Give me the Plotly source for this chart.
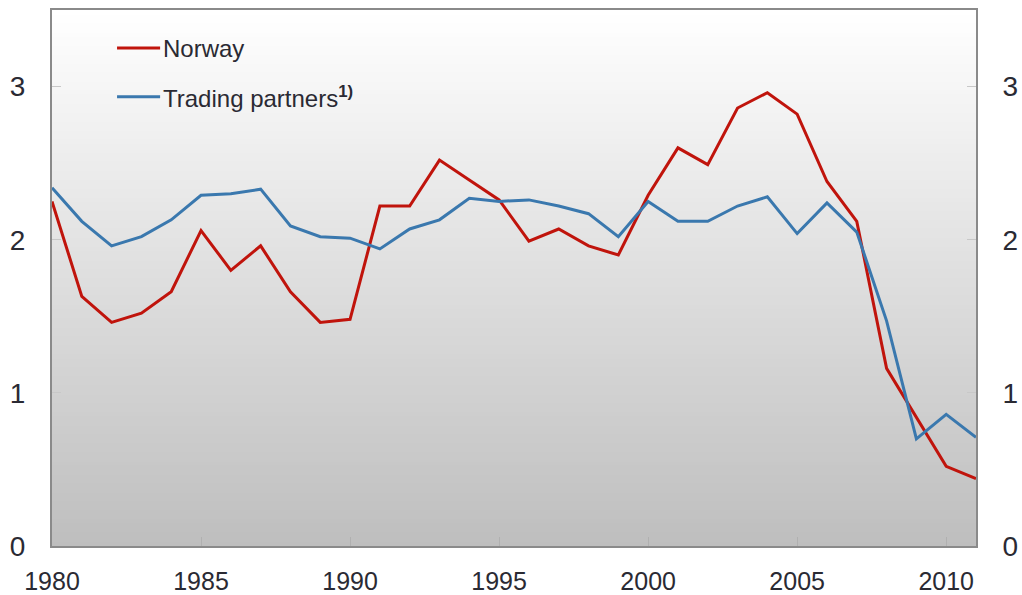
import plotly.graph_objects as go

years = list(range(1980, 2012))
norway = [2.25, 1.63, 1.46, 1.52, 1.66, 2.06, 1.80, 1.96, 1.66, 1.46,
          1.48, 2.22, 2.22, 2.52, 2.39, 2.26, 1.99, 2.07, 1.96, 1.90,
          2.29, 2.60, 2.49, 2.86, 2.96, 2.82, 2.38, 2.12, 1.16, 0.84,
          0.52, 0.44]
trading = [2.34, 2.12, 1.96, 2.02, 2.13, 2.29, 2.30, 2.33, 2.09, 2.02,
           2.01, 1.94, 2.07, 2.13, 2.27, 2.25, 2.26, 2.22, 2.17, 2.02,
           2.25, 2.12, 2.12, 2.22, 2.28, 2.04, 2.24, 2.05, 1.47, 0.70,
           0.86, 0.71]
series_names = ["Norway", "Trading partners"]
colors = ["#c0140c", "#3a78ae"]
x_ticks = [1980, 1985, 1990, 1995, 2000, 2005, 2010]
y_ticks = [0, 1, 2, 3]

FONT = "Liberation Sans, Arial, sans-serif"
TXT = "#2a2a33"

fig = go.Figure()
fig.add_trace(go.Scatter(x=years, y=norway, mode="lines", name=series_names[0],
                         line=dict(color=colors[0], width=3), showlegend=False))
fig.add_trace(go.Scatter(x=years, y=trading, mode="lines", name=series_names[1],
                         line=dict(color=colors[1], width=3), showlegend=False))
# trace on the right axis (same data, invisible) so the right axis is drawn
fig.add_trace(go.Scatter(x=years, y=trading, yaxis="y2", mode="lines",
                         line=dict(width=0, color="rgba(0,0,0,0)"),
                         hoverinfo="skip", showlegend=False))

# vertical gradient background (white -> grey) in paper coordinates
shapes = []
n = 120
top = (255, 255, 255)
bot = (190, 190, 190)
for i in range(n):
    t0 = i / n
    t1 = (i + 1) / n
    f = (i + 0.5) / n  # 0 at bottom, 1 at top
    c = tuple(round(bot[k] + (top[k] - bot[k]) * f) for k in range(3))
    shapes.append(dict(type="rect", xref="paper", yref="paper", x0=0, x1=1,
                       y0=t0, y1=min(t1 + 0.002, 1), fillcolor="rgb(%d,%d,%d)" % c,
                       line=dict(width=0), layer="below"))

# legend drawn by hand
legend_y = [0.929, 0.838]
legend_text = ["Norway", "Trading partners<sup><b>1)</b></sup>"]
for i in range(2):
    shapes.append(dict(type="line", xref="paper", yref="paper",
                       x0=0.0704, x1=0.117, y0=legend_y[i], y1=legend_y[i],
                       line=dict(color=colors[i], width=3), layer="above"))
annotations = []
for i in range(2):
    annotations.append(dict(xref="paper", yref="paper", x=0.118, y=legend_y[i],
                            xanchor="left", yanchor="middle", showarrow=False,
                            text=legend_text[i],
                            font=dict(family=FONT, size=24, color=TXT)))

line_style = dict(showgrid=False, zeroline=False, showline=True, linecolor="#8a8a8a",
                  linewidth=2, automargin=False)

fig.update_layout(
    width=1022, height=595,
    margin=dict(l=52, r=46, t=10, b=49),
    paper_bgcolor="white", plot_bgcolor="white",
    shapes=shapes, annotations=annotations,
    font=dict(family=FONT, size=22, color=TXT),
    xaxis=dict(range=[1980, 2011], tickmode="array", tickvals=x_ticks,
               ticktext=[str(v) for v in x_ticks], ticks="inside", ticklen=9,
               tickcolor="#b0b0b0", tickwidth=1, mirror=True,
               tickfont=dict(size=25, color=TXT), ticklabelstandoff=12,
               **line_style),
    yaxis=dict(range=[0, 3.5], tickmode="array", tickvals=y_ticks,
               ticks="inside", ticklen=9, tickcolor="#c8c8c8", tickwidth=1,
               tickfont=dict(size=28, color=TXT), ticklabelstandoff=19,
               **line_style),
    yaxis2=dict(range=[0, 3.5], overlaying="y", side="right",
                tickmode="array", tickvals=y_ticks, ticks="inside", ticklen=9,
                tickcolor="#c8c8c8", tickwidth=1, tickfont=dict(size=28, color=TXT),
                ticklabelstandoff=19, **line_style),
)

fig.write_html("out.html", config={"displayModeBar": False},
               post_script="document.body.style.margin='0';document.body.style.overflow='hidden';")
